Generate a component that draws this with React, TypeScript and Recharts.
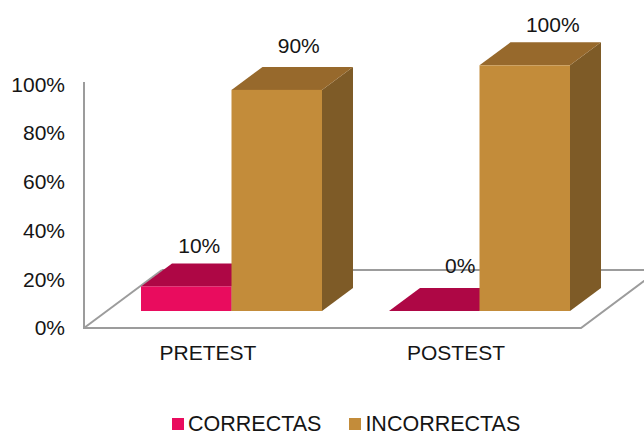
import { Bar, BarChart, LabelList, Legend, XAxis, YAxis } from "recharts";

const categories = ["PRETEST", "POSTEST"];
const correctas = [10, 0];
const incorrectas = [90, 100];
const percentTicks = [0, 20, 40, 60, 80, 100];

const data = categories.map((name, i) => ({
  name,
  correctas: correctas[i],
  incorrectas: incorrectas[i],
}));

const FONT = "'Liberation Sans', Arial, sans-serif";
const TEXT = "#151515";
const FRAME = "#9c9c9c";

// oblique projection used for every box
const DEPTH_X = 31;
const DEPTH_Y = 23;
const BAR_SHIFT = 23;
// the wall's tick labels sit in front of the bars' plane
const TICK_DROP = 17;

const PINK = { front: "#e90c5e", top: "#ae0745", side: "#8f063a" };
const TAN = { front: "#c38c3a", top: "#97692c", side: "#7e5b27" };

type BoxProps = { x: number; y: number; width: number; height: number };

function box(colors: typeof PINK) {
  return function Box({ x, y, width, height }: BoxProps) {
    const left = x + BAR_SHIFT;
    const right = left + width;
    const bottom = y + height;
    return (
      <g>
        <polygon
          points={`${right},${y} ${right + DEPTH_X},${y - DEPTH_Y} ${right + DEPTH_X},${bottom - DEPTH_Y} ${right},${bottom}`}
          fill={colors.side}
        />
        <polygon
          points={`${left},${y} ${left + DEPTH_X},${y - DEPTH_Y} ${right + DEPTH_X},${y - DEPTH_Y} ${right},${y}`}
          fill={colors.top}
        />
        {height > 0 && <rect x={left} y={y} width={width} height={height} fill={colors.front} />}
      </g>
    );
  };
}

// label placement relative to the top of each box
const correctasNudge = [
  [13, -41],
  [26, -45],
];
const incorrectasNudge = [
  [22, -44],
  [28, -41],
];

function boxLabel(nudge: number[][]) {
  return function BoxLabel({ x, y, width, value, index }: any) {
    const [dx, dy] = nudge[index];
    return (
      <text
        x={x + width / 2 + BAR_SHIFT + dx}
        y={y + dy}
        textAnchor="middle"
        dominantBaseline="central"
        fontSize={21}
        fill={TEXT}
      >
        {`${value}%`}
      </text>
    );
  };
}

function PercentTick({ y, payload }: any) {
  return (
    <text
      x={65}
      y={y + TICK_DROP + payload.value * 0.017}
      textAnchor="end"
      dominantBaseline="central"
      fontSize={21}
      fill={TEXT}
    >
      {`${payload.value}%`}
    </text>
  );
}

function LegendRow({ payload }: any) {
  return (
    <div style={{ display: "flex", fontFamily: FONT, fontSize: 21.5, color: TEXT, lineHeight: "18px", whiteSpace: "nowrap" }}>
      {(payload ?? []).map((entry: any, i: number) => (
        <div key={entry.value} style={{ display: "flex", alignItems: "center", marginRight: i === 0 ? 28 : 0 }}>
          <span style={{ width: 12, height: 12, background: entry.color, marginRight: 4, display: "inline-block" }} />
          {entry.value}
        </div>
      ))}
    </div>
  );
}

export default function App() {
  return (
    <div style={{ position: "absolute", left: 0, top: 0, width: 644, height: 433, background: "#fff", fontFamily: FONT, overflow: "hidden" }}>
      <BarChart
        width={644}
        height={433}
        data={data}
        barSize={90.5}
        barGap={0}
        margin={{ top: 30, right: 64, bottom: 0, left: 0 }}
      >
        {/* floor and wall outline */}
        <g fill="none" stroke={FRAME} strokeWidth={2}>
          <polyline points="84,82 84,328 581,328 660,269" />
          <line x1={84} y1={328} x2={162} y2={270} />
          <line x1={162} y1={270} x2={644} y2={270} />
        </g>
        <XAxis
          dataKey="name"
          axisLine={false}
          tickLine={false}
          height={87}
          tick={{ fontSize: 21, fill: TEXT }}
          tickMargin={11}
        />
        <YAxis
          width={84}
          domain={[-6.92, 114.37]}
          ticks={percentTicks}
          interval={0}
          axisLine={false}
          tickLine={false}
          tick={<PercentTick />}
        />
        <Legend
          verticalAlign="bottom"
          content={<LegendRow />}
          wrapperStyle={{ position: "absolute", left: 172, bottom: 0, width: 400 }}
        />
        <Bar
          dataKey="correctas"
          name="CORRECTAS"
          fill={PINK.front}
          isAnimationActive={false}
          shape={box(PINK)}
        >
          <LabelList dataKey="correctas" content={boxLabel(correctasNudge)} />
        </Bar>
        <Bar
          dataKey="incorrectas"
          name="INCORRECTAS"
          fill={TAN.front}
          isAnimationActive={false}
          shape={box(TAN)}
        >
          <LabelList dataKey="incorrectas" content={boxLabel(incorrectasNudge)} />
        </Bar>
      </BarChart>
    </div>
  );
}
